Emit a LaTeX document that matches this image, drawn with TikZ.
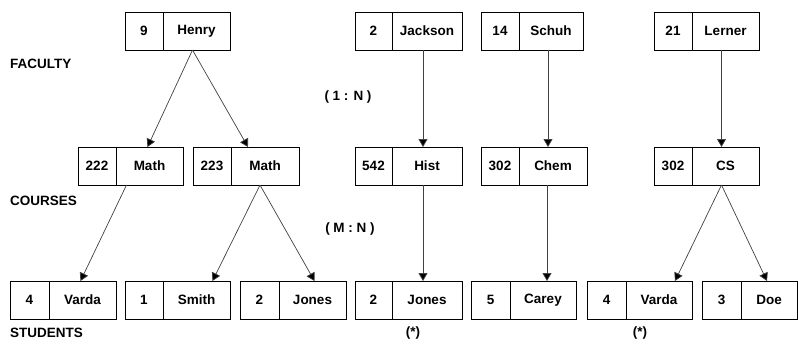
\documentclass[tikz,border=0pt]{standalone}
\usepackage{fontspec}
\setmainfont{Liberation Sans}
\usepackage{tikz}
\usetikzlibrary{positioning, arrows.meta}

\tikzset{
  cell/.style={draw, line width=0.8pt, minimum height=38, inner sep=0pt, outer sep=0pt,
               font=\bfseries\fontsize{13.5}{16}\selectfont},
  keycell/.style={cell, minimum width=38, anchor=north west},
  namecell/.style={cell, minimum width=67},
  lbl/.style={font=\bfseries\fontsize{13.5}{16}\selectfont, inner sep=0pt},
  link/.style={draw=black!75, line width=0.7pt, -{Triangle[width=9pt,length=8pt,fill=black]}}
}

\begin{document}
\begin{tikzpicture}[x=1pt, y=-1pt]
\useasboundingbox (0,0) rectangle (798,343);

% faculty
\node[keycell] (henryk) at (125,12) {9};
\node[namecell, right=0pt of henryk] (henryn) {Henry};
\node[keycell, minimum width=37] (jacksonk) at (355,12) {2};
\node[namecell, minimum width=70, right=0pt of jacksonk] (jacksonn) {Jackson};
\node[keycell] (schuhk) at (481,12) {14};
\node[namecell, minimum width=64, right=0pt of schuhk] (schuhn) {Schuh};
\node[keycell] (lernerk) at (654,12) {21};
\node[namecell, right=0pt of lernerk] (lernern) {Lerner};

% courses
\node[keycell] (mathak) at (78,147) {222};
\node[namecell, right=0pt of mathak] (mathan) {Math};
\node[keycell] (mathbk) at (193,147) {223};
\node[namecell, minimum width=68, right=0pt of mathbk] (mathbn) {Math};
\node[keycell, minimum width=37] (histk) at (355,147) {542};
\node[namecell, minimum width=70, right=0pt of histk] (histn) {Hist};
\node[keycell] (chemk) at (481,147) {302};
\node[namecell, minimum width=68, right=0pt of chemk] (chemn) {Chem};
\node[keycell] (csk) at (654,147) {302};
\node[namecell, right=0pt of csk] (csn) {CS};

% students
\node[keycell, minimum width=39] (vardaak) at (10,281) {4};
\node[namecell, right=0pt of vardaak] (vardaan) {Varda};
\node[keycell] (smithk) at (125,281) {1};
\node[namecell, right=0pt of smithk] (smithn) {Smith};
\node[keycell, minimum width=39] (jonesak) at (240,281) {2};
\node[namecell, right=0pt of jonesak] (jonesan) {Jones};
\node[keycell, minimum width=37] (jonesbk) at (355,281) {2};
\node[namecell, minimum width=70, right=0pt of jonesbk] (jonesbn) {Jones};
\node[keycell, minimum width=39] (careyk) at (471,281) {5};
\node[namecell, minimum width=66, right=0pt of careyk] (careyn) {Carey};
\node[keycell, minimum width=39] (vardabk) at (587,281) {4};
\node[namecell, minimum width=66, right=0pt of vardabk] (vardabn) {Varda};
\node[keycell, minimum width=39] (doek) at (702,281) {3};
\node[namecell, minimum width=56, right=0pt of doek] (doen) {Doe};

% labels
\node[lbl, anchor=west] (faculty) at (10,64) {FACULTY};
\node[lbl, anchor=west] (courses) at (10,201) {COURSES};
\node[lbl, anchor=west] (students) at (10,333) {STUDENTS};
\node[lbl] (onen) at (348,97) {( 1 : N )};
\node[lbl] (mn) at (350,229) {( M : N )};
\node[lbl] (stara) at (413,333) {(*)};
\node[lbl] (starb) at (640,333) {(*)};

% links
\draw[link] ([xshift=-4]henryn.south) -- ([xshift=-2]mathan.north);
\draw[link] ([xshift=-4]henryn.south) -- ([xshift=-17]mathbn.north);
\draw[link] ([xshift=-23]mathan.south) -- ([xshift=-2]vardaan.north);
\draw[link] ([xshift=-5]mathbn.south) -- ([xshift=16]smithn.north);
\draw[link] ([xshift=-5]mathbn.south) -- ([xshift=2]jonesan.north);
\draw[link] ([xshift=-4]jacksonn.south) -- ([xshift=-4]histn.north);
\draw[link] ([xshift=-3]schuhn.south) -- ([xshift=-3]schuhn.south |- chemn.north);
\draw[link] ([xshift=-4]lernern.south) -- ([xshift=-4]csn.north);
\draw[link] ([xshift=-4]histn.south) -- ([xshift=-4]jonesbn.north);
\draw[link] ([xshift=-6]chemn.south) -- ([xshift=-6]chemn.south |- careyn.north);
\draw[link] ([xshift=-4]csn.south) -- ([xshift=16]vardabn.north);
\draw[link] ([xshift=-4]csn.south) -- ([xshift=-2]doen.north);

\end{tikzpicture}
\end{document}
